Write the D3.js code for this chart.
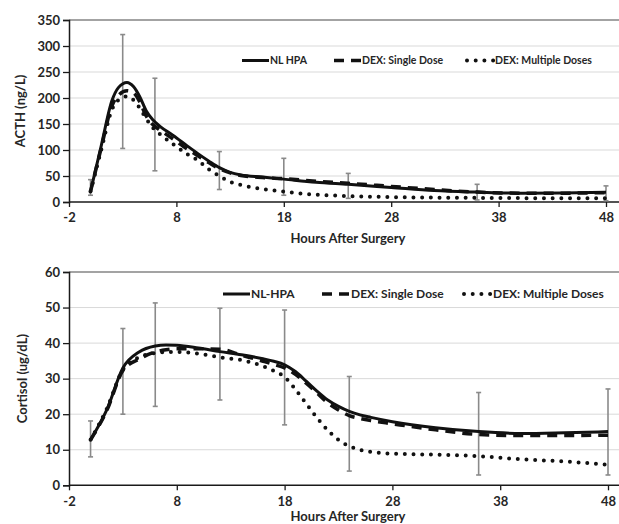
<!DOCTYPE html>
<html>
<head>
<meta charset="utf-8">
<script src="https://cdn.jsdelivr.net/npm/d3@7"></script>
<style>
  html, body { margin: 0; padding: 0; background: #fff; }
  svg { display: block; }
  text { font-family: "Lato", "Open Sans", sans-serif; font-weight: 700; fill: #262626; }
</style>
</head>
<body>
<svg id="chart" width="619" height="524"></svg>
<script>
// ---------------- DATA ----------------
const seriesNames = ["NL HPA", "DEX: Single Dose", "DEX: Multiple Doses"];
const seriesNamesCortisol = ["NL-HPA", "DEX: Single Dose", "DEX: Multiple Doses"];
const xTicks = [-2, 8, 18, 28, 38, 48];
const acthTicks = [0, 50, 100, 150, 200, 250, 300, 350];
const cortisolTicks = [0, 10, 20, 30, 40, 50, 60];

// ACTH (ng/L) panel
const acthHours = [0, 1, 2, 2.6, 3.4, 4, 4.6, 5.2, 5.8, 6.5, 7.7, 9, 10, 11, 12, 13, 14, 16, 18, 21, 24, 28, 32, 36, 40, 44, 48];
const acthNL     = [20, 108, 195, 220, 230, 222, 202, 175, 158, 145, 128, 108, 93, 79, 66, 57, 52, 48, 44, 38, 34, 28, 22, 19, 17, 17.5, 19];
const acthSingle = [20, 104, 185, 205, 214, 210, 192, 165, 149, 138, 121, 102, 89, 76, 64, 56, 51, 47, 45, 40, 36, 30, 24, 19, 17, 17, 18];
const acthMulti  = [20, 100, 178, 196, 203, 196, 180, 160, 143, 130, 111, 92, 80, 63, 50, 39, 33, 25, 20, 14, 11.5, 9.5, 8.5, 8, 7.5, 7.2, 7];
const acthErrHours = [0, 3, 6, 12, 18, 24, 36, 48];
const acthErrLow   = [13, 103, 60, 24, 13, 7, 4, 2.5];
const acthErrHigh  = [43, 322, 238, 97, 84, 55, 34, 31];

// Cortisol (ug/dL) panel
const cortHours = [0, 1.5, 3, 4.5, 6, 7, 8, 10, 12, 14, 16, 17, 18, 19, 20, 21, 22, 23, 24, 25, 26, 28, 32, 36, 40, 44, 48];
const cortNL     = [12.8, 21.2, 33, 37.5, 39.2, 39.5, 39.4, 38.6, 37.6, 36.7, 35.6, 34.9, 33.9, 32, 29.3, 26.5, 24, 22.2, 20.8, 19.8, 19.1, 17.9, 16.2, 15.1, 14.6, 14.8, 15.1];
const cortSingle = [12.8, 21, 32.3, 35.5, 37.5, 38.1, 38.4, 38.4, 38.3, 36.6, 34.9, 34, 33, 31.2, 28.7, 26, 23.2, 21.2, 19.6, 18.8, 18.2, 17.3, 15.6, 14.3, 14, 14, 14.1];
const cortMulti  = [12.8, 21.5, 32.5, 36, 37.2, 37.5, 37.5, 37, 36, 35.2, 33.5, 32.2, 30.5, 27, 23, 19, 15.5, 12.8, 11, 10, 9.4, 8.9, 8.6, 8.2, 7.3, 6.7, 5.8];
const cortErrHours = [0, 3, 6, 12, 18, 24, 36, 48];
const cortErrLow   = [8, 20, 22.2, 24, 17, 4, 2.9, 2.9];
const cortErrHigh  = [18.1, 44.1, 51.3, 49.8, 49.3, 30.6, 26.1, 27.1];

// ---------------- STYLES ----------------
const lineStyles = [
  { width: 3, dash: null, cap: "butt" },
  { width: 3.5, dash: "10,7", cap: "butt" },
  { width: 4, dash: "0,8.7", cap: "round" }
];

const svg = d3.select("#chart");

function drawPanel(cfg) {
  const g = svg.append("g");
  const x = d3.scaleLinear().domain([-2, 48]).range([cfg.left, cfg.x48]);
  const y = d3.scaleLinear().domain([0, cfg.yMax]).range([cfg.bottom, cfg.top]);
  const rightEdge = 619;

  // gridlines
  g.selectAll(".grid").data(cfg.yTicks.filter(d => d > 0 && d < cfg.yMax)).enter()
    .append("line")
    .attr("x1", cfg.left).attr("x2", rightEdge)
    .attr("y1", d => y(d)).attr("y2", d => y(d))
    .attr("stroke", "#d9d9d9").attr("stroke-width", 1);
  // top border
  g.append("line")
    .attr("x1", cfg.left).attr("x2", rightEdge)
    .attr("y1", y(cfg.yMax)).attr("y2", y(cfg.yMax))
    .attr("stroke", "#858585").attr("stroke-width", 1.5);

  // y axis
  const yAxis = d3.axisLeft(y).tickValues(cfg.yTicks).tickFormat(d => String(d)).tickSize(6).tickPadding(3);
  const ya = g.append("g").attr("transform", `translate(${cfg.left},0)`).call(yAxis);
  ya.select(".domain").attr("stroke", "#1a1a1a").attr("stroke-width", 1.5);
  ya.selectAll(".tick line").attr("stroke", "#1a1a1a").attr("stroke-width", 1.3);
  ya.selectAll(".tick text").style("font-size", "13px").style("font-family", "Lato").style("font-weight", 700).attr("fill", "#262626");

  // x axis
  const xAxis = d3.axisBottom(x).tickValues(xTicks).tickFormat(d => String(d)).tickSize(5).tickPadding(6).tickSizeOuter(0);
  const xa = g.append("g").attr("transform", `translate(0,${cfg.bottom})`).call(xAxis);
  xa.select(".domain").remove();
  xa.append("line").attr("x1", cfg.left).attr("x2", rightEdge).attr("y1", 0).attr("y2", 0)
    .attr("stroke", "#1a1a1a").attr("stroke-width", 1.5);
  xa.selectAll(".tick line").attr("stroke", "#1a1a1a").attr("stroke-width", 1.3);
  xa.selectAll(".tick text").style("font-size", "13px").style("font-family", "Lato").style("font-weight", 700).attr("fill", "#262626");

  // error bars
  const eb = g.append("g");
  cfg.errHours.forEach((h, i) => {
    const cx = x(h);
    eb.append("line").attr("x1", cx).attr("x2", cx).attr("y1", y(cfg.errLow[i])).attr("y2", y(cfg.errHigh[i]))
      .attr("stroke", "#8a8a8a").attr("stroke-width", 1.6);
    [cfg.errLow[i], cfg.errHigh[i]].forEach(v => {
      eb.append("line").attr("x1", cx - 2.5).attr("x2", cx + 2.5).attr("y1", y(v)).attr("y2", y(v))
        .attr("stroke", "#8a8a8a").attr("stroke-width", 1.6);
    });
  });

  // series lines
  const line = d3.line().x(d => x(d[0])).y(d => y(d[1])).curve(d3.curveMonotoneX);
  cfg.series.forEach((vals, si) => {
    const st = lineStyles[si];
    const pts = cfg.hours.map((h, i) => [h, vals[i]]);
    const p = g.append("path").datum(pts).attr("d", line)
      .attr("fill", "none").attr("stroke", "#111")
      .attr("stroke-width", st.width).attr("stroke-linecap", st.cap).attr("stroke-linejoin", "round");
    if (st.dash) p.attr("stroke-dasharray", st.dash);
  });

  // legend
  const lg = g.append("g");
  cfg.legend.forEach((L, si) => {
    const st = lineStyles[si];
    const ln = lg.append("line").attr("x1", L.x0).attr("x2", L.x1).attr("y1", cfg.legendY).attr("y2", cfg.legendY)
      .attr("stroke", "#111").attr("stroke-width", st.width).attr("stroke-linecap", st.cap);
    if (st.dash) ln.attr("stroke-dasharray", st.dash);
    lg.append("text").attr("x", L.x1 + 1).attr("y", cfg.legendY).attr("dy", "0.35em")
      .style("font-size", cfg.legendFont + "px").text(cfg.names[si]);
  });

  // axis titles
  g.append("text").attr("text-anchor", "middle")
    .attr("transform", `translate(${cfg.yTitleX},${(cfg.top + cfg.bottom) / 2}) rotate(-90)`)
    .attr("dy", "0.35em")
    .style("font-size", "13px").text(cfg.yTitle);
  g.append("text").attr("text-anchor", "middle")
    .attr("x", 348).attr("y", cfg.xTitleY).attr("dy", "0.35em")
    .style("font-size", "13px").text("Hours After Surgery");
}

drawPanel({
  left: 69, x48: 606, top: 20, bottom: 202, yMax: 350, yTicks: acthTicks,
  hours: acthHours, series: [acthNL, acthSingle, acthMulti],
  errHours: acthErrHours, errLow: acthErrLow, errHigh: acthErrHigh,
  names: seriesNames, legendY: 60.5, legendFont: 10.5,
  legend: [{ x0: 242, x1: 269 }, { x0: 334, x1: 361 }, { x0: 467, x1: 494 }],
  yTitle: "ACTH (ng/L)", yTitleX: 20, xTitleY: 238
});

drawPanel({
  left: 69, x48: 608, top: 272, bottom: 485.3, yMax: 60, yTicks: cortisolTicks,
  hours: cortHours, series: [cortNL, cortSingle, cortMulti],
  errHours: cortErrHours, errLow: cortErrLow, errHigh: cortErrHigh,
  names: seriesNamesCortisol, legendY: 294, legendFont: 12,
  legend: [{ x0: 223, x1: 250 }, { x0: 322, x1: 350 }, { x0: 464, x1: 492 }],
  yTitle: "Cortisol (ug/dL)", yTitleX: 22, xTitleY: 516.5
});
</script>
</body>
</html>
